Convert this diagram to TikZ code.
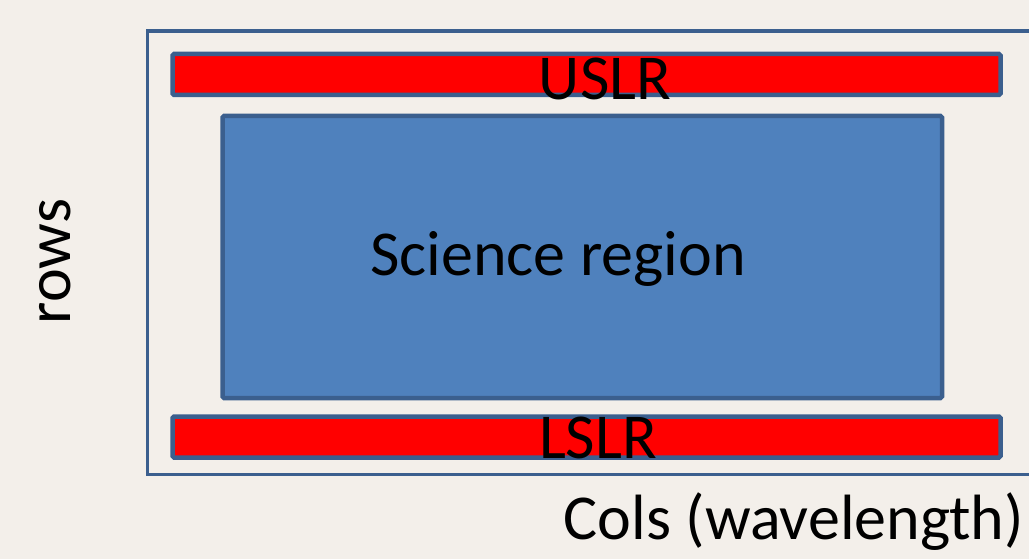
\documentclass[tikz,border=0pt]{standalone}
\usepackage{fontspec}
\setmainfont{Carlito}
\definecolor{bg}{HTML}{F3EFEA}
\definecolor{edge}{HTML}{3B5F8E}
\definecolor{sci}{HTML}{4F81BD}
\definecolor{barred}{HTML}{FF0000}
\begin{document}
\begin{tikzpicture}[x=1pt,y=-1pt,
  box/.style={draw=edge,line width=4.5pt,rounded corners=1.5pt,inner sep=0pt,outer sep=0pt,anchor=north west},
  lbl/.style={font=\fontsize{64}{64}\selectfont,inner sep=0pt,text=black}]
\useasboundingbox (0,0) rectangle (1029,559);
\fill[bg] (0,0) rectangle (1029,559);
\begin{scope}
\clip (0,0) rectangle (1029,559);
\node[draw=edge,line width=3.5pt,inner sep=0pt,outer sep=0pt,anchor=north west,minimum width=900pt,minimum height=443.5pt] (frame) at (147.5,31) {};
\end{scope}
\node[box,fill=barred,minimum width=828pt,minimum height=41pt] (uslr) at (172.5,54) {};
\node[box,fill=sci,minimum width=719.5pt,minimum height=282pt] (science) at (222.5,116) {};
\node[box,fill=barred,minimum width=828pt,minimum height=41pt] (lslr) at (172.5,416.5) {};
\node[lbl,anchor=base] (uslrt) at (605,100) {USLR};
\node[lbl,anchor=base] (scit) at (558,275) {Science region};
\node[lbl,anchor=base] (lslrt) at (598,458) {LSLR};
\node[lbl,anchor=base east] (colst) at (1024,539) {Cols (wavelength)};
\node[lbl,anchor=base,rotate=90] (rowst) at (70,261.5) {rows};
\end{tikzpicture}
\end{document}
